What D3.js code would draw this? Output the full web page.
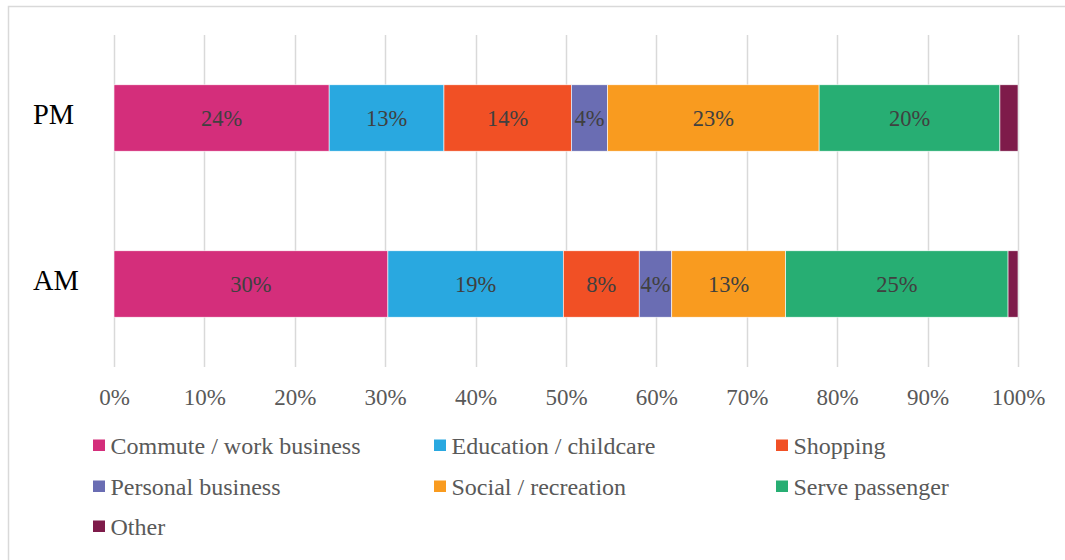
<!DOCTYPE html>
<html>
<head>
<meta charset="utf-8">
<script src="https://cdn.jsdelivr.net/npm/d3@7"></script>
<style>
  html, body { margin: 0; padding: 0; background: #fff; }
  svg { display: block; }
</style>
</head>
<body>
<svg id="chart" width="1065" height="560"></svg>
<script>
const categories = ["PM", "AM"];
const seriesNames = ["Commute / work business", "Education / childcare", "Shopping", "Personal business", "Social / recreation", "Serve passenger", "Other"];
const seriesColors = ["#D42E7B", "#29A8E0", "#F15025", "#6A6DB3", "#F99B1F", "#27AE73", "#7E1B4A"];
const pmValues = [23.8, 12.7, 14.1, 4.0, 23.4, 20.0, 2.0];
const amValues = [30.3, 19.4, 8.4, 3.6, 12.6, 24.6, 1.1];
const tickValues = [0, 10, 20, 30, 40, 50, 60, 70, 80, 90, 100];
const showLabel = [true, true, true, true, true, true, false];

const valuesByCat = { PM: pmValues, AM: amValues };

const svg = d3.select("#chart");
const font = "'Liberation Serif', 'Times New Roman', serif";

// outer border
svg.append("rect")
  .attr("x", 8.5).attr("y", 6.5)
  .attr("width", 1070).attr("height", 570)
  .attr("fill", "none").attr("stroke", "#d9d9d9").attr("stroke-width", 1.5);

const x = d3.scaleLinear().domain([0, 100]).range([114, 1018]);
const y = d3.scaleBand().domain(categories).range([35, 367]).paddingInner(0.6).paddingOuter(0.3);

// gridlines
svg.append("g").selectAll("line").data(tickValues).join("line")
  .attr("x1", d => Math.round(x(d)) + 0.5).attr("x2", d => Math.round(x(d)) + 0.5)
  .attr("y1", 35).attr("y2", 367)
  .attr("stroke", "#d9d9d9").attr("stroke-width", 1.5);

// axis labels
const axis = d3.axisBottom(x).tickValues(tickValues).tickFormat(d => d + "%").tickSize(0).tickPadding(0);
const axG = svg.append("g").attr("transform", "translate(0,397)").call(axis);
axG.select(".domain").remove();
axG.selectAll("text")
  .attr("font-family", font).attr("font-size", 23).attr("fill", "#595959")
  .attr("dy", "0.35em").attr("y", 0);

// stacked segments
const rows = categories.map(c => {
  let acc = 0;
  return valuesByCat[c].map((v, i) => {
    const seg = { cat: c, i, v, x0: acc, x1: acc + v };
    acc += v;
    return seg;
  });
});

const barG = svg.append("g");
rows.forEach(row => {
  barG.selectAll(null).data(row).join("rect")
    .attr("x", d => x(d.x0))
    .attr("y", d => y(d.cat))
    .attr("width", d => x(d.x1) - x(d.x0))
    .attr("height", y.bandwidth())
    .attr("fill", d => seriesColors[d.i])
    .attr("stroke", "#ffffff").attr("stroke-width", 0.6);

  barG.selectAll(null).data(row.filter(d => showLabel[d.i])).join("text")
    .attr("x", d => (x(d.x0) + x(d.x1)) / 2)
    .attr("y", d => y(d.cat) + y.bandwidth() / 2)
    .attr("dy", "0.35em")
    .attr("text-anchor", "middle")
    .attr("font-family", font).attr("font-size", 22.5).attr("fill", "#404040")
    .text(d => Math.round(d.v) + "%");
});

// category labels
svg.append("g").selectAll("text").data(categories).join("text")
  .attr("x", 33)
  .attr("y", d => y(d) + y.bandwidth() / 2 - 4)
  .attr("dy", "0.35em")
  .attr("font-family", font).attr("font-size", 28.5).attr("fill", "#000")
  .text(d => d);

// legend
const legCols = [93, 434, 776];
const legRows = [446, 487, 527];
const leg = svg.append("g").selectAll("g").data(seriesNames).join("g")
  .attr("transform", (d, i) => `translate(${legCols[i % 3]},${legRows[Math.floor(i / 3)]})`);
leg.append("rect")
  .attr("x", 0).attr("y", -6.5).attr("width", 12).attr("height", 11.5)
  .attr("fill", (d, i) => seriesColors[i]);
leg.append("text")
  .attr("x", 17.5).attr("y", 0).attr("dy", "0.35em")
  .attr("font-family", font).attr("font-size", 24).attr("fill", "#595959")
  .text(d => d);
</script>
</body>
</html>
